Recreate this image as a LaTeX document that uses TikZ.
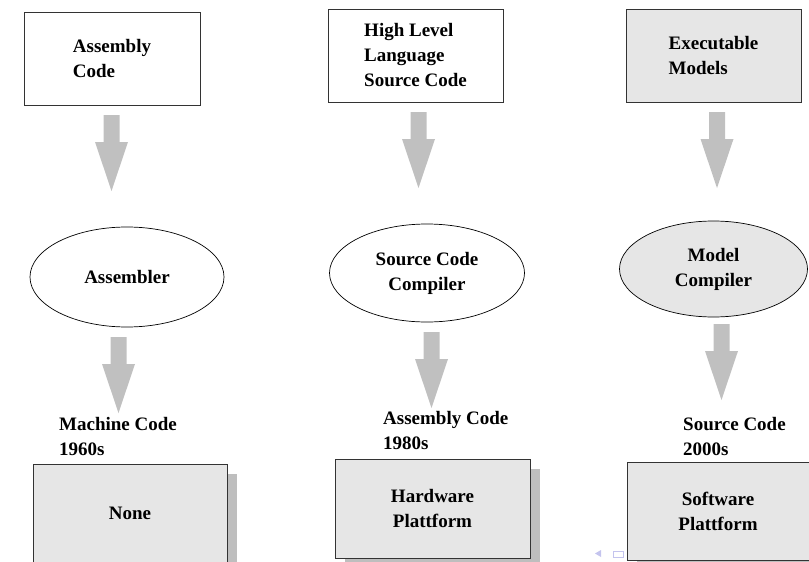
\documentclass[tikz,border=0pt]{standalone}
\usepackage{fontspec}
\setmainfont{Liberation Serif}
\usetikzlibrary{shapes.geometric,shadows}

\definecolor{boxgray}{RGB}{230,230,230}
\definecolor{arrowgray}{RGB}{192,192,192}
\definecolor{shadowgray}{RGB}{190,190,190}
\definecolor{navblue}{RGB}{196,196,238}

% gray block arrow pointing down: x centre, y top
\newcommand{\flowarrow}[2]{%
  \fill[arrowgray] (#1-8,#2) -- (#1+8,#2) -- (#1+8,#2+27) -- (#1+16.5,#2+27)
    -- (#1,#2+76) -- (#1-16.5,#2+27) -- (#1-8,#2+27) -- cycle;}

\begin{document}
\begin{tikzpicture}[x=1pt,y=-1pt,
    every node/.style={font=\fontsize{19}{25}\selectfont\bfseries},
    topbox/.style={draw=black!80,line width=1pt,minimum width=176pt,minimum height=93pt,align=left,inner sep=0pt},
    toolbox/.style={ellipse,draw,line width=0.7pt,align=center,inner sep=0pt},
    era/.style={align=left,anchor=north west,inner sep=0pt},
    platform/.style={draw=black!80,line width=1pt,fill=boxgray,minimum width=194pt,minimum height=99pt,align=center,
      drop shadow={shadow xshift=10pt,shadow yshift=-10pt,fill=shadowgray,opacity=1}}]
  \useasboundingbox (0,0) rectangle (809,562);
  \clip (0,0) rectangle (809,562);

  % inputs
  \node[topbox] (asmcode) at (112,58.5) {Assembly\\Code};
  \node[topbox,minimum width=175pt] (hllcode) at (415.5,55.5) {High Level\\Language\\Source Code};
  \node[topbox,minimum width=175pt,fill=boxgray] (execmodels) at (713.5,55.5) {Executable\\Models};

  \flowarrow{111.5}{115}
  \flowarrow{418.5}{112}
  \flowarrow{717}{112}

  % translators
  \node[toolbox,minimum width=194pt,minimum height=100pt] (assembler) at (127,277) {Assembler};
  \node[toolbox,minimum width=195pt,minimum height=98pt] (sccompiler) at (427,273) {Source Code\\Compiler};
  \node[toolbox,minimum width=188pt,minimum height=96pt,fill=boxgray] (mcompiler) at (713.5,269) {Model\\Compiler};

  \flowarrow{118.5}{337}
  \flowarrow{431.5}{332}
  \flowarrow{721.5}{324}

  % outputs
  \node[era] (machine) at (59,417.5) {Machine Code\\1960s};
  \node[era] (assembly) at (383,411.5) {Assembly Code\\1980s};
  \node[era] (source) at (683,417.5) {Source Code\\2000s};

  \node[platform] (none) at (130,513.5) {None};
  \node[platform,minimum width=195pt] (hardware) at (432.5,508.5) {Hardware\\Plattform};
  \node[platform,minimum width=182pt,minimum height=98pt] (software) at (718,511) {Software\\Plattform};

  % navigation symbols
  \fill[navblue] (601,550) -- (601,557) -- (595,553.5) -- cycle;
  \draw[navblue,line width=1pt] (613,551) rectangle (623,557);
\end{tikzpicture}
\end{document}
